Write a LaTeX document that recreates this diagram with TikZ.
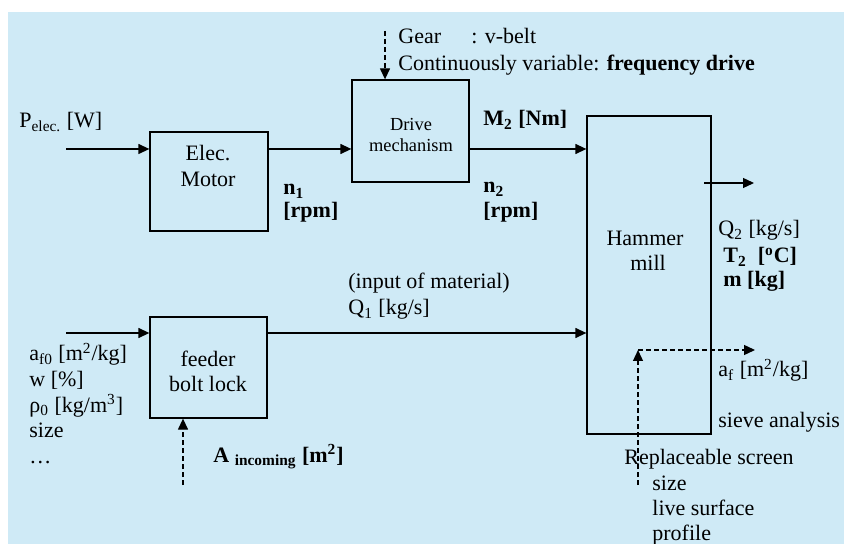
\documentclass[tikz,border=0pt]{standalone}
\usepackage{fontspec}
\setmainfont{Liberation Serif}
\usetikzlibrary{arrows.meta}
\definecolor{bg}{RGB}{207,234,246}
\begin{document}
\begin{tikzpicture}[x=0.5pt,y=-0.5pt,
  blk/.style={draw, line width=0.65pt, inner sep=0pt},
  flow/.style={line width=0.65pt, -{Triangle[length=5.5pt,width=5pt]}},
  ctrl/.style={flow, dash pattern=on 2.5pt off 1.5pt},
  txt/.style={anchor=base west, inner sep=0pt, font=\fontsize{11}{13.5}\selectfont},
  ctr/.style={anchor=base, inner sep=0pt, font=\fontsize{11}{13.5}\selectfont},
  small/.style={anchor=base, inner sep=0pt, font=\fontsize{9.2}{11}\selectfont}]
\useasboundingbox (0,0) rectangle (844,544);
\fill[bg] (8,12) rectangle (844,544);

% blocks
\node[blk, minimum width=59pt, minimum height=49.5pt] (motor) at (209,181.5) {};
\node[blk, minimum width=58.5pt, minimum height=51pt] (drive) at (410.5,131) {};
\node[blk, minimum width=62pt, minimum height=159pt] (hammer) at (649,275) {};
\node[blk, minimum width=58.5pt, minimum height=50.5pt] (feeder) at (208.5,367.5) {};

% block texts
\node[ctr] (t1) at (208,161) {Elec.};
\node[ctr] (t2) at (208,187) {Motor};
\node[small] (t3) at (411,131) {Drive};
\node[small] (t4) at (411,152) {mechanism};
\node[ctr] (t5) at (645,246) {Hammer};
\node[ctr] (t6) at (648,271) {mill};
\node[ctr] (t7) at (208,366) {feeder};
\node[ctr] (t8) at (208,392) {bolt lock};

% free ends
\coordinate (pin) at (66,149);
\coordinate (fin) at (66,333);
\coordinate (qin) at (704,183);
\coordinate (qout) at (754,183);
\coordinate (gtop) at (385,31);
\coordinate (abot) at (183,485);
\coordinate (sbot) at (638,485);
\coordinate (scorner) at (638,350);
\coordinate (sout) at (755,350);

% connectors
\draw[flow] (pin) -- (motor.west |- pin);
\draw[flow] (motor.east |- pin) -- (drive.west |- pin);
\draw[flow] (drive.east |- pin) -- (hammer.west |- pin);
\draw[flow] (qin) -- (qout);
\draw[flow] (fin) -- (feeder.west |- fin);
\draw[flow] (feeder.east |- fin) -- (hammer.west |- fin);
\draw[ctrl] (gtop) -- (gtop |- drive.north);
\draw[ctrl] (abot) -- (abot |- feeder.south);
\draw[ctrl] (sbot) -- (scorner);
\draw[ctrl] (scorner) -- (sout);

% labels
\node[txt] (l1) at (19,128) {P\textsubscript{elec.} [W]};
\node[txt] (l2) at (398,44) {\makebox[36.5pt][l]{Gear}: v-belt};
\node[txt] (l3) at (398,71) {Continuously variable: \textbf{frequency drive}};
\node[txt] (l4) at (283,195) {\textbf{n\textsubscript{1}}};
\node[txt] (l5) at (283,218) {\textbf{[rpm]}};
\node[txt] (l6) at (483,126) {\textbf{M\textsubscript{2} [Nm]}};
\node[txt] (l7) at (483,193) {\textbf{n\textsubscript{2}}};
\node[txt] (l8) at (483,218) {\textbf{[rpm]}};
\node[txt] (l9) at (718,236) {Q\textsubscript{2} [kg/s]};
\node[txt] (l10) at (723,263) {\textbf{T\textsubscript{2}\ \ [\textsuperscript{o}C]}};
\node[txt] (l11) at (723,287) {\textbf{m [kg]}};
\node[txt] (l12) at (348,289) {(input of material)};
\node[txt] (l13) at (348,315) {Q\textsubscript{1} [kg/s]};
\node[txt] (l14) at (29,361) {a\textsubscript{f0} [m\textsuperscript{2}/kg]};
\node[txt] (l15) at (29,386.5) {w [\%]};
\node[txt] (l16) at (29,412) {ρ\textsubscript{0} [kg/m\textsuperscript{3}]};
\node[txt] (l17) at (29,437.5) {size};
\node[txt] (l18) at (29,463) {…};
\node[txt] (l19) at (213,462) {\textbf{A \textsubscript{incoming} [m\textsuperscript{2}]}};
\node[txt] (l20) at (718,377) {a\textsubscript{f} [m\textsuperscript{2}/kg]};
\node[txt] (l21) at (718,427) {sieve analysis};
\node[txt] (l22) at (624,464) {Replaceable screen};
\node[txt] (l23) at (652,490) {size};
\node[txt] (l24) at (652,515) {live surface};
\node[txt] (l25) at (652,540) {profile};
\end{tikzpicture}
\end{document}
